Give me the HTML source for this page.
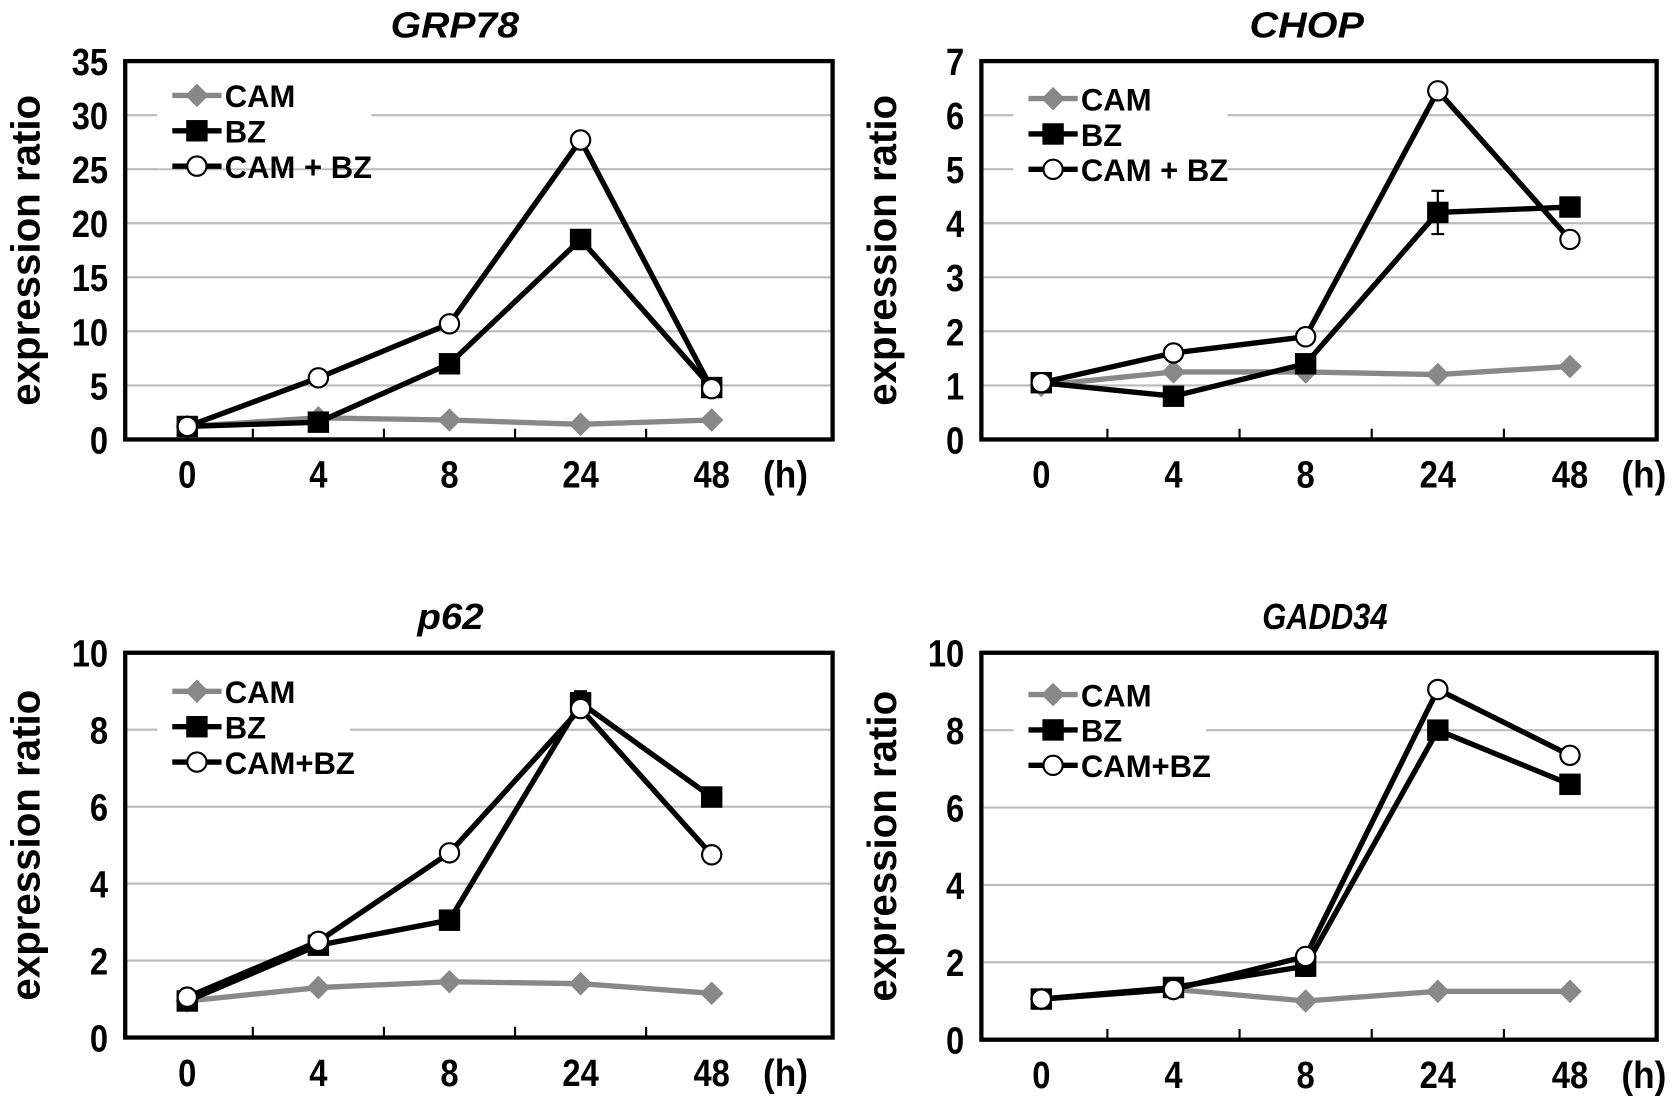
<!DOCTYPE html>
<html><head><meta charset="utf-8"><style>
html,body{margin:0;padding:0;background:#fff;}
svg{display:block;}
text{font-family:"Liberation Sans",Arial,sans-serif;font-weight:bold;}
</style></head>
<body>
<svg id="fig" width="1677" height="1104" viewBox="0 0 1567 1030" preserveAspectRatio="none" xmlns="http://www.w3.org/2000/svg"></svg>
<script>
const categories = ["0","4","8","24","48"];
const grpCam = [1.2,2.0,1.8,1.4,1.8];
const grpBz = [1.2,1.6,7.0,18.5,4.8];
const grpCamBz = [1.2,5.7,10.7,27.7,4.7];
const grpTicks = [0,5,10,15,20,25,30,35];
const chopCam = [1.0,1.25,1.25,1.2,1.35];
const chopBz = [1.05,0.8,1.4,4.2,4.3];
const chopBzErr = [0,0,0,0.4,0];
const chopCamBz = [1.05,1.6,1.9,6.45,3.7];
const chopTicks = [0,1,2,3,4,5,6,7];
const p62Cam = [0.95,1.3,1.45,1.4,1.15];
const p62Bz = [0.95,2.4,3.05,8.7,6.25];
const p62BzErr = [0,0,0,0.3,0];
const p62CamBz = [1.05,2.5,4.8,8.55,4.75];
const p62Ticks = [0,2,4,6,8,10];
const gaddCam = [1.05,1.3,1.0,1.25,1.25];
const gaddBz = [1.05,1.35,1.9,8.0,6.6];
const gaddBzErr = [0,0,0.25,0,0];
const gaddCamBz = [1.05,1.3,2.15,9.05,7.35];
const gaddTicks = [0,2,4,6,8,10];

const NS="http://www.w3.org/2000/svg";
const svg=document.getElementById('fig');
function mk(tag,attrs,parent){const e=document.createElementNS(NS,tag);for(const k in attrs)e.setAttribute(k,attrs[k]);(parent||svg).appendChild(e);return e;}

function panel(cfg){
  const g=mk('g',{});
  
  
  const L=cfg.L,R=cfg.R,T=cfg.T,B=cfg.B;
  const ymax=cfg.ticks[cfg.ticks.length-1];
  const y=v=>B-(v/ymax)*(B-T);
  const step=cfg.step;
  const x=i=>L+cfg.off+step*i;
  cfg.ticks.forEach(t=>{
    if(t===0||t===ymax)return;
    const gl=mk('line',{x1:L,x2:R,y1:y(t),y2:y(t),stroke:'#bbb','stroke-width':2},g);
    
    
  });
  mk('rect',{x:L+30,y:cfg.legY-18,width:cfg.legW,height:86,fill:'#fff'},g);
  cfg.ticks.forEach(t=>{
    const s=String(t);
    const tl=mk('text',{x:L-16,y:y(t)+13,'text-anchor':'end','font-size':35,textLength:s.length*17,lengthAdjust:'spacingAndGlyphs'},g);
    tl.textContent=s;
    
    
  });
  for(let i=0;i<4;i++){const tx=x(i)+step/2;mk('line',{x1:tx,x2:tx,y1:B,y2:B-10,stroke:'#000','stroke-width':2},g);}
  categories.forEach((c,i)=>{
    const xl=mk('text',{x:x(i),y:B+45,'text-anchor':'middle','font-size':35,textLength:c.length*17,lengthAdjust:'spacingAndGlyphs'},g);
    xl.textContent=c;
    
    
  });
  const hu=mk('text',{x:x(4)+48,y:B+45,'font-size':35,textLength:42,lengthAdjust:'spacingAndGlyphs'},g);
  hu.textContent='(h)';
  
  
  const yt=mk('text',{x:0,y:0,'text-anchor':'middle','font-size':38,transform:`translate(${L-80},${(T+B)/2}) rotate(-90)`,textLength:290,lengthAdjust:'spacingAndGlyphs'},g);
  yt.textContent='expression ratio';
  
  
  const tt=mk('text',{x:cfg.titleX,y:T-22,'text-anchor':'middle','font-size':34,'font-style':'italic',textLength:cfg.titleW,lengthAdjust:'spacingAndGlyphs'},g);
  tt.textContent=cfg.title;
  
  
  const line=(vals,color,w)=>mk('polyline',{points:vals.map((v,i)=>x(i)+','+y(v)).join(' '),fill:'none',stroke:color,'stroke-width':w},g);
  const camL=line(cfg.cam,'#888',5);
  
  
  cfg.cam.forEach((v,i)=>{
    const d=mk('polygon',{points:`${x(i)},${y(v)-11} ${x(i)+11},${y(v)} ${x(i)},${y(v)+11} ${x(i)-11},${y(v)}`,fill:'#888'},g);
    
    
  });
  const bzL=line(cfg.bz,'#000',5);
  
  
  cfg.bz.forEach((v,i)=>{
    const e=cfg.err?cfg.err[i]:0;
    if(e>0){
      mk('line',{x1:x(i),x2:x(i),y1:y(v+e),y2:y(v-e),stroke:'#000','stroke-width':2},g);
      mk('line',{x1:x(i)-6,x2:x(i)+6,y1:y(v+e),y2:y(v+e),stroke:'#000','stroke-width':2},g);
      mk('line',{x1:x(i)-6,x2:x(i)+6,y1:y(v-e),y2:y(v-e),stroke:'#000','stroke-width':2},g);
    }
    const s=mk('rect',{x:x(i)-10,y:y(v)-10,width:20,height:20,fill:'#000'},g);
    
    
  });
  const cbL=line(cfg.cb,'#000',5);
  
  
  cfg.cb.forEach((v,i)=>{
    const c=mk('circle',{cx:x(i),cy:y(v),r:9,fill:'#fff',stroke:'#000','stroke-width':2},g);
    
    
  });
  const lx=L+44, ly=cfg.legY, dy=cfg.legDy;
  const labels=['CAM','BZ',cfg.cbLabel];
  [0,1,2].forEach(k=>{
    const yy=ly+k*dy;
    const col=k===0?'#888':'#000';
    mk('line',{x1:lx,x2:lx+46,y1:yy,y2:yy,stroke:col,'stroke-width':5},g);
    const cx=lx+23;
    if(k===0)mk('polygon',{points:`${cx},${yy-11} ${cx+11},${yy} ${cx},${yy+11} ${cx-11},${yy}`,fill:'#888'},g);
    if(k===1)mk('rect',{x:cx-10,y:yy-10,width:20,height:20,fill:'#000'},g);
    if(k===2)mk('circle',{cx:cx,cy:yy,r:9,fill:'#fff',stroke:'#000','stroke-width':2},g);
    const lt=mk('text',{x:lx+49,y:yy+11,'font-size':29},g);
    lt.textContent=labels[k];
    
    
  });
  const fr=mk('rect',{x:L,y:T,width:R-L,height:B-T,fill:'none',stroke:'#000','stroke-width':4},g);
  
  
}
panel({name:'grp78',title:'GRP78',titleX:425,titleW:120,L:117,R:778,T:57,B:410,off:58,step:122.5,ticks:grpTicks,cam:grpCam,bz:grpBz,cb:grpCamBz,err:null,legY:89,legDy:33,legW:200,cbLabel:'CAM + BZ'});
panel({name:'chop',title:'CHOP',titleX:1221,titleW:107,L:917,R:1548,T:57,B:410,off:56,step:123.5,ticks:chopTicks,cam:chopCam,bz:chopBz,cb:chopCamBz,err:chopBzErr,legY:92,legDy:33,legW:200,cbLabel:'CAM + BZ'});
panel({name:'p62',title:'p62',titleX:421,titleW:62,L:117,R:778,T:609,B:968,off:58,step:122.5,ticks:p62Ticks,cam:p62Cam,bz:p62Bz,cb:p62CamBz,err:p62BzErr,legY:645,legDy:33,legW:180,cbLabel:'CAM+BZ'});
panel({name:'gadd34',title:'GADD34',titleX:1238,titleW:117,L:917,R:1548,T:609,B:970,off:56,step:123.5,ticks:gaddTicks,cam:gaddCam,bz:gaddBz,cb:gaddCamBz,err:gaddBzErr,legY:648,legDy:33,legW:180,cbLabel:'CAM+BZ'});
</script>
</body></html>
